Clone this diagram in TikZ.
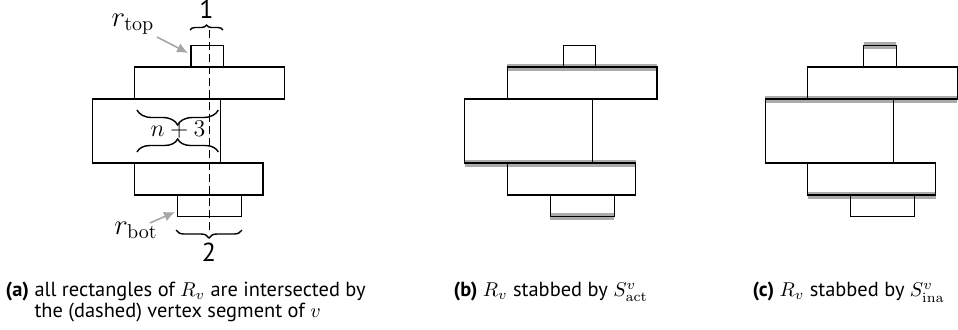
\documentclass[tikz,border=0pt]{standalone}
\usepackage{amsmath,amssymb}
\usepackage[no-math]{fontspec}
\setmainfont{PT Sans}
\usepackage{tikz}
\usetikzlibrary{arrows.meta,decorations.pathreplacing}

% the five rectangles of R_v
\newcommand{\vertexrects}{%
  \draw (191,262) rectangle (223.3,283.3);    % r_top
  \draw (134.7,230) rectangle (284.5,262);
  \draw (92.3,166) rectangle (220.3,230);
  \draw (134.7,134) rectangle (263,166);
  \draw (177.7,112.7) rectangle (241.7,134);  % r_bot
}

\begin{document}
\begin{tikzpicture}[x=0.5pt,y=0.5pt,>={Latex[length=5.5pt,width=5pt]},line width=0.6pt]

  \tikzstyle{stab}=[line width=3.5pt,black!33]
  \tikzstyle{pointer}=[->,black!35,line width=0.8pt]
  \tikzstyle{brc}=[decorate,line width=0.7pt]
  \tikzstyle{lbl}=[font=\fontsize{14}{14}\selectfont]
  \tikzstyle{caption}=[anchor=base west,inner sep=0pt,font=\fontsize{10.2}{10}\selectfont]

  \useasboundingbox (0,0) rectangle (958,329);

%(a) vertex segment
  \vertexrects
  \draw[dash pattern=on 4pt off 2pt] (209.3,299) -- (209.3,96);
  \draw[brc,decoration={brace,amplitude=2.5pt}] (190,299) -- (223,299)
    node[midway,above=2pt,font=\fontsize{13}{13}\selectfont] (one) {1};
  \draw[brc,decoration={brace,amplitude=4pt}] (242,99) -- (176,99)
    node[midway,below=3pt,font=\fontsize{13}{13}\selectfont] (two) {2};
  \draw[brc,decoration={brace,amplitude=7.5pt}] (218.3,219) -- (137,219);
  \draw[brc,decoration={brace,amplitude=6.5pt}] (137,177) -- (218.3,177);
  \node[font=\fontsize{11.5}{11.5}\selectfont,inner sep=0pt] (cnt) at (178,199) {$n+3$};

  \node[lbl,inner sep=0pt] (rtop) at (133,305) {$r_{\mathrm{top}}$};
  \node[lbl,inner sep=0pt] (rbot) at (136,99) {$r_{\mathrm{bot}}$};
  \coordinate (rtopfrom) at (157,292);
  \coordinate (rtoptip) at (188,276);
  \coordinate (rbotfrom) at (150,106);
  \coordinate (rbottip) at (175,117);
  \draw[pointer] (rtopfrom) -- (rtoptip);
  \draw[pointer] (rbotfrom) -- (rbottip);

%(b) active stabbing
  \begin{scope}[shift={(372.5,0)}]
    \draw[stab] (134.7,262) -- (284.5,262);
    \draw[stab] (92.3,166) -- (263,166);
    \draw[stab] (177.7,112.7) -- (241.7,112.7);
    \vertexrects
  \end{scope}

%(c) inactive stabbing
  \begin{scope}[shift={(672.8,0)}]
    \draw[stab] (191,283.3) -- (223.3,283.3);
    \draw[stab] (92.3,230) -- (284.5,230);
    \draw[stab] (134.7,134) -- (263,134);
    \vertexrects
  \end{scope}

% captions
  \node[caption] (capa) at (5,32.3) {\textbf{(a)} \begin{tabular}[t]{@{}l@{}}all rectangles of $R_v$ are intersected by\\the (dashed) vertex segment of $v$\end{tabular}};
  \node[caption] (capb) at (453,32.3) {\textbf{(b)} $R_v$ stabbed by $S^v_{\mathrm{act}}$};
  \node[caption] (capc) at (752,32.3) {\textbf{(c)} $R_v$ stabbed by $S^v_{\mathrm{ina}}$};

\end{tikzpicture}
\end{document}
